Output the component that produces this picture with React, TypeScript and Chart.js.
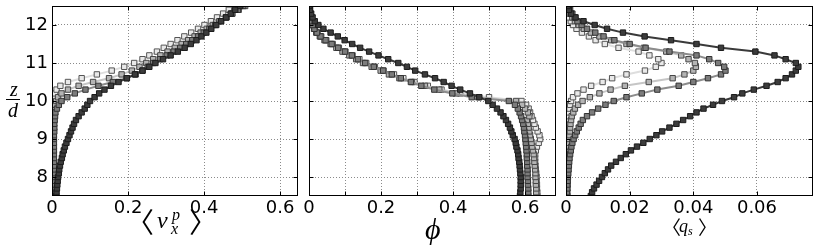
import React, { useEffect, useRef } from "react";
import { Chart, registerables } from "chart.js";

Chart.register(...registerables);

// ---------------- data ----------------
const Z = [
  7.5, 7.6, 7.7, 7.8, 7.9, 8.0, 8.1, 8.2, 8.3, 8.4,
  8.5, 8.6, 8.7, 8.8, 8.9, 9.0, 9.1, 9.2, 9.3, 9.4,
  9.5, 9.6, 9.7, 9.8, 9.9, 10.0, 10.1, 10.2, 10.3, 10.4,
  10.5, 10.6, 10.7, 10.8, 10.9, 11.0, 11.1, 11.2, 11.3, 11.4,
  11.5, 11.6, 11.7, 11.8, 11.9, 12.0, 12.1, 12.2, 12.3, 12.4,
  12.5,
];

// panel 1: <v_x^p>
const VX_S1 = [
  0.011, 0.012, 0.013, 0.014, 0.015, 0.016, 0.018, 0.019, 0.021, 0.023,
  0.026, 0.028, 0.031, 0.034, 0.038, 0.042, 0.046, 0.050, 0.054, 0.058,
  0.063, 0.070, 0.078, 0.086, 0.093, 0.100, 0.112, 0.124, 0.138, 0.155,
  0.175, 0.197, 0.218, 0.238, 0.256, 0.272, 0.292, 0.312, 0.331, 0.349,
  0.365, 0.380, 0.393, 0.406, 0.419, 0.432, 0.445, 0.458, 0.470, 0.482,
  0.495,
];
const VX_S2 = [
  0.005, 0.005, 0.005, 0.005, 0.005, 0.005, 0.005, 0.005, 0.005, 0.005,
  0.005, 0.005, 0.005, 0.005, 0.005, 0.005, 0.005, 0.006, 0.006, 0.006,
  0.007, 0.008, 0.009, 0.013, 0.018, 0.025, 0.040, 0.060, 0.088, 0.122,
  0.160, 0.196, 0.220, 0.238, 0.252, 0.266, 0.284, 0.302, 0.320, 0.337,
  0.353, 0.369, 0.384, 0.399, 0.414, 0.429, 0.444, 0.459, 0.474, 0.489,
  0.503,
];
const VX_S3 = [
  0.003, 0.003, 0.003, 0.003, 0.003, 0.003, 0.003, 0.003, 0.003, 0.003,
  0.003, 0.003, 0.003, 0.003, 0.003, 0.003, 0.003, 0.003, 0.003, 0.003,
  0.003, 0.004, 0.005, 0.006, 0.008, 0.011, 0.016, 0.025, 0.042, 0.070,
  0.108, 0.150, 0.183, 0.210, 0.230, 0.248, 0.266, 0.285, 0.304, 0.323,
  0.341, 0.358, 0.375, 0.391, 0.407, 0.423, 0.440, 0.457, 0.474, 0.491,
  0.508,
];
const VX_S4 = [
  0.001, 0.001, 0.001, 0.001, 0.001, 0.001, 0.001, 0.001, 0.001, 0.001,
  0.001, 0.001, 0.001, 0.001, 0.001, 0.001, 0.001, 0.001, 0.001, 0.001,
  0.002, 0.002, 0.003, 0.003, 0.004, 0.005, 0.006, 0.008, 0.012, 0.022,
  0.042, 0.078, 0.118, 0.157, 0.190, 0.216, 0.238, 0.256, 0.276, 0.294,
  0.312, 0.330, 0.348, 0.366, 0.384, 0.401, 0.418, 0.434, 0.450, 0.465,
  0.480,
];

// panel 2: phi
const PHI_S1 = [
  0.586, 0.587, 0.588, 0.588, 0.588, 0.588, 0.587, 0.586, 0.585, 0.584,
  0.582, 0.581, 0.579, 0.576, 0.574, 0.571, 0.566, 0.562, 0.558, 0.553,
  0.547, 0.540, 0.532, 0.522, 0.510, 0.498, 0.473, 0.447, 0.420, 0.396,
  0.374, 0.350, 0.322, 0.295, 0.272, 0.248, 0.220, 0.193, 0.167, 0.142,
  0.120, 0.099, 0.080, 0.060, 0.040, 0.026, 0.016, 0.010, 0.006, 0.003,
  0.001,
];
const PHI_S2 = [
  0.609, 0.609, 0.609, 0.608, 0.608, 0.607, 0.607, 0.607, 0.606, 0.606,
  0.605, 0.605, 0.604, 0.603, 0.602, 0.601, 0.600, 0.598, 0.597, 0.595,
  0.592, 0.589, 0.585, 0.580, 0.572, 0.555, 0.452, 0.398, 0.348, 0.312,
  0.283, 0.255, 0.230, 0.206, 0.180, 0.156, 0.136, 0.119, 0.100, 0.081,
  0.063, 0.046, 0.032, 0.022, 0.015, 0.010, 0.007, 0.005, 0.003, 0.002,
  0.001,
];
const PHI_S3 = [
  0.631, 0.631, 0.631, 0.630, 0.630, 0.629, 0.629, 0.628, 0.627, 0.626,
  0.625, 0.624, 0.622, 0.620, 0.618, 0.616, 0.614, 0.612, 0.610, 0.608,
  0.605, 0.612, 0.608, 0.600, 0.592, 0.575, 0.470, 0.410, 0.362, 0.322,
  0.286, 0.251, 0.222, 0.199, 0.174, 0.150, 0.131, 0.112, 0.093, 0.076,
  0.060, 0.043, 0.030, 0.020, 0.014, 0.010, 0.007, 0.005, 0.003, 0.002,
  0.001,
];
const PHI_S4 = [
  0.634, 0.634, 0.633, 0.633, 0.632, 0.632, 0.631, 0.630, 0.629, 0.628,
  0.628, 0.628, 0.630, 0.633, 0.638, 0.642, 0.640, 0.635, 0.630, 0.626,
  0.622, 0.618, 0.614, 0.610, 0.603, 0.590, 0.500, 0.420, 0.368, 0.330,
  0.293, 0.262, 0.236, 0.207, 0.183, 0.159, 0.140, 0.121, 0.101, 0.083,
  0.066, 0.048, 0.034, 0.024, 0.016, 0.011, 0.008, 0.005, 0.003, 0.002,
  0.001,
];

// panel 3: <q_s>
const QS_S1 = [
  0.0078, 0.0082, 0.0088, 0.0096, 0.0104, 0.0113, 0.0122, 0.0132, 0.0142, 0.0157,
  0.0172, 0.0188, 0.0204, 0.0223, 0.0243, 0.0263, 0.0284, 0.0302, 0.0325, 0.0347,
  0.0368, 0.0390, 0.0410, 0.0432, 0.0462, 0.0490, 0.0528, 0.0554, 0.0590, 0.0630,
  0.0665, 0.0690, 0.0710, 0.0722, 0.0730, 0.0722, 0.0690, 0.0655, 0.0595, 0.0487,
  0.0410, 0.0330, 0.0247, 0.0179, 0.0129, 0.0090, 0.0055, 0.0030, 0.0016, 0.0009,
  0.0005,
];
const QS_S2 = [
  0.0003, 0.0003, 0.0004, 0.0004, 0.0005, 0.0006, 0.0007, 0.0008, 0.0009, 0.0010,
  0.0011, 0.0013, 0.0015, 0.0017, 0.0020, 0.0024, 0.0029, 0.0034, 0.0040, 0.0046,
  0.0053, 0.0066, 0.0082, 0.0101, 0.0124, 0.0150, 0.0190, 0.0238, 0.0287, 0.0354,
  0.0400, 0.0446, 0.0487, 0.0501, 0.0497, 0.0478, 0.0450, 0.0410, 0.0325, 0.0250,
  0.0200, 0.0152, 0.0118, 0.0092, 0.0066, 0.0049, 0.0036, 0.0027, 0.0020, 0.0013,
  0.0008,
];
const QS_S3 = [
  0.0004, 0.0004, 0.0004, 0.0005, 0.0005, 0.0005, 0.0005, 0.0006, 0.0006, 0.0006,
  0.0007, 0.0007, 0.0008, 0.0008, 0.0009, 0.0010, 0.0011, 0.0012, 0.0013, 0.0014,
  0.0016, 0.0018, 0.0023, 0.0028, 0.0038, 0.0052, 0.0075, 0.0105, 0.0140, 0.0185,
  0.0260, 0.0335, 0.0372, 0.0400, 0.0408, 0.0405, 0.0385, 0.0362, 0.0315, 0.0245,
  0.0190, 0.0142, 0.0105, 0.0078, 0.0056, 0.0040, 0.0028, 0.0020, 0.0014, 0.0010,
  0.0006,
];
const QS_S4 = [
  0.0002, 0.0002, 0.0002, 0.0002, 0.0003, 0.0003, 0.0003, 0.0003, 0.0003, 0.0003,
  0.0003, 0.0004, 0.0004, 0.0004, 0.0004, 0.0004, 0.0005, 0.0005, 0.0005, 0.0005,
  0.0006, 0.0007, 0.0009, 0.0011, 0.0013, 0.0016, 0.0022, 0.0036, 0.0055, 0.0079,
  0.0115, 0.0145, 0.0190, 0.0248, 0.0282, 0.0300, 0.0290, 0.0262, 0.0228, 0.0165,
  0.0122, 0.0093, 0.0072, 0.0050, 0.0033, 0.0022, 0.0015, 0.0010, 0.0007, 0.0005,
  0.0003,
];

// ticks
const Y_TICKS = [8, 9, 10, 11, 12];
const X1_TICKS = [0, 0.2, 0.4, 0.6];
const X1_LABELS = ["0", "0.2", "0.4", "0.6"];
const X2_TICKS = [0, 0.1, 0.2, 0.3, 0.4, 0.5, 0.6];
const X2_LABELS = ["0", "", "0.2", "", "0.4", "", "0.6"];
const X3_TICKS = [0, 0.02, 0.04, 0.06];
const X3_LABELS = ["0", "0.02", "0.04", "0.06"];

// ---------------- styles ----------------
const STYLES = [
  { fill: "#3c3c3c", edge: "#1c1c1c", line: "#3a3a3a" },
  { fill: "#7c7c7c", edge: "#333333", line: "#8c8c8c" },
  { fill: "#b4b4b4", edge: "#464646", line: "#c6c6c6" },
  { fill: "#e9e9e9", edge: "#555555", line: "#dedede" },
];
const GRID = "#8a8a8a";
const TICK_FONT = { family: '"DejaVu Sans"', size: 18 };
const SERIF = '"Liberation Serif", "DejaVu Serif", serif';
const BRACKET = '"Noto Sans CJK JP", "DejaVu Sans", sans-serif';

const framePlugin = {
  id: "frameTicks",
  afterDraw(chart: any) {
    const { ctx, chartArea: a, scales } = chart;
    ctx.save();
    ctx.strokeStyle = "#000";
    ctx.lineWidth = 1;
    const L = Math.round(a.left) + 0.5;
    const R = Math.round(a.right) - 0.5;
    const T = Math.round(a.top) + 0.5;
    const B = Math.round(a.bottom) - 0.5;
    ctx.beginPath();
    scales.x.ticks.forEach((t: any) => {
      const p = Math.round(scales.x.getPixelForValue(t.value)) + 0.5;
      ctx.moveTo(p, B);
      ctx.lineTo(p, B - 4);
      ctx.moveTo(p, T);
      ctx.lineTo(p, T + 4);
    });
    scales.y.ticks.forEach((t: any) => {
      const p = Math.round(scales.y.getPixelForValue(t.value)) + 0.5;
      ctx.moveTo(L, p);
      ctx.lineTo(L + 4, p);
      ctx.moveTo(R, p);
      ctx.lineTo(R - 4, p);
    });
    ctx.stroke();
    ctx.strokeRect(L, T, R - L, B - T);
    ctx.restore();
  },
};

// draw text so that its ink box starts at (left, top) in page coordinates
function ink(ctx: CanvasRenderingContext2D, text: string, font: string, left: number, top: number) {
  ctx.font = font;
  const m = ctx.measureText(text);
  ctx.fillText(text, left + m.actualBoundingBoxLeft, top + m.actualBoundingBoxAscent);
}

function labelPlugin(draw: (ctx: CanvasRenderingContext2D) => void, offset: number) {
  return {
    id: "mathLabels",
    afterDraw(chart: any) {
      const { ctx } = chart;
      ctx.save();
      ctx.translate(-offset, 0);
      ctx.fillStyle = "#000";
      ctx.textBaseline = "alphabetic";
      ctx.textAlign = "left";
      draw(ctx);
      ctx.restore();
    },
  };
}

const drawLabel1 = (ctx: CanvasRenderingContext2D) => {
  ink(ctx, "\u3008", `28px ${BRACKET}`, 142, 208);
  ink(ctx, "v", `italic 24px ${SERIF}`, 157, 217);
  ink(ctx, "p", `italic 16px ${SERIF}`, 171, 212);
  ink(ctx, "x", `italic 16px ${SERIF}`, 170, 226);
  ink(ctx, "\u3009", `28px ${BRACKET}`, 190, 208);
  // y label z/d
  ink(ctx, "z", `italic 20px ${SERIF}`, 9, 86);
  ink(ctx, "d", `italic 20px ${SERIF}`, 8, 103);
  ctx.fillRect(6, 99, 14, 1);
};

const drawLabel2 = (ctx: CanvasRenderingContext2D) => {
  ink(ctx, "\u03D5", `italic 30px ${SERIF}`, 425, 218);
};

const drawLabel3 = (ctx: CanvasRenderingContext2D) => {
  ink(ctx, "\u3008", `19px ${BRACKET}`, 673, 218);
  ink(ctx, "q", `italic 18px ${SERIF}`, 679, 223);
  ink(ctx, "s", `italic 12px ${SERIF}`, 688, 229);
  ink(ctx, "\u3009", `19px ${BRACKET}`, 698, 218);
};

type PanelCfg = {
  series: number[][];
  xMax: number;
  xTicks: number[];
  xLabels: string[];
  showY: boolean;
  width: number;
  left: number;
  padL: number;
  padR: number;
  yWidth: number;
  draw: (ctx: CanvasRenderingContext2D) => void;
};

function buildChart(canvas: HTMLCanvasElement, p: PanelCfg) {
  return new Chart(canvas, {
    type: "scatter",
    data: {
      datasets: p.series.map((vals, i) => ({
        label: `s${i}`,
        data: vals.map((v, k) => ({ x: v, y: Z[k] })),
        showLine: true,
        borderColor: STYLES[i].line,
        borderWidth: 2,
        tension: 0,
        pointStyle: "rect",
        pointRadius: 3.8,
        pointHoverRadius: 3.8,
        pointBackgroundColor: STYLES[i].fill,
        pointBorderColor: STYLES[i].edge,
        pointBorderWidth: 1,
      })),
    },
    options: {
      responsive: false,
      animation: false,
      events: [],
      layout: { padding: { left: p.padL, right: p.padR, top: 6, bottom: 0 } },
      plugins: { legend: { display: false }, tooltip: { enabled: false } },
      scales: {
        x: {
          type: "linear",
          min: 0,
          max: p.xMax,
          afterBuildTicks: (s: any) => {
            s.ticks = p.xTicks.map((v) => ({ value: v }));
          },
          afterFit: (s: any) => {
            s.height = 49;
            s.paddingLeft = 0;
            s.paddingRight = 0;
            s.paddingTop = 0;
            s.paddingBottom = 0;
          },
          grid: { color: GRID, lineWidth: 1, drawTicks: false },
          border: { display: false, dash: [1, 2] },
          ticks: {
            font: TICK_FONT,
            color: "#000",
            padding: 2,
            maxRotation: 0,
            minRotation: 0,
            autoSkip: false,
            callback: (_v: any, i: number) => p.xLabels[i],
          },
        },
        y: {
          type: "linear",
          min: 7.5,
          max: 12.5,
          afterBuildTicks: (s: any) => {
            s.ticks = Y_TICKS.map((v) => ({ value: v }));
          },
          afterFit: (s: any) => {
            s.width = p.yWidth;
            s.paddingLeft = 0;
            s.paddingRight = 0;
            s.paddingTop = 0;
            s.paddingBottom = 0;
          },
          grid: { color: GRID, lineWidth: 1, drawTicks: false },
          border: { display: false, dash: [1, 2] },
          ticks: {
            display: p.showY,
            font: TICK_FONT,
            color: "#000",
            padding: 4,
            autoSkip: false,
            callback: (v: any) => String(v),
          },
        },
      },
    } as any,
    plugins: [framePlugin, labelPlugin(p.draw, p.left)],
  });
}

const PANELS: PanelCfg[] = [
  {
    series: [VX_S1, VX_S2, VX_S3, VX_S4],
    xMax: 0.647,
    xTicks: X1_TICKS,
    xLabels: X1_LABELS,
    showY: true,
    width: 310,
    left: 0,
    padL: 0,
    padR: 12,
    yWidth: 52,
    draw: drawLabel1,
  },
  {
    series: [PHI_S1, PHI_S2, PHI_S3, PHI_S4],
    xMax: 0.686,
    xTicks: X2_TICKS,
    xLabels: X2_LABELS,
    showY: false,
    width: 285,
    left: 290,
    padL: 19,
    padR: 19,
    yWidth: 0,
    draw: drawLabel2,
  },
  {
    series: [QS_S1, QS_S2, QS_S3, QS_S4],
    xMax: 0.0776,
    xTicks: X3_TICKS,
    xLabels: X3_LABELS,
    showY: false,
    width: 285,
    left: 545,
    padL: 21,
    padR: 17,
    yWidth: 0,
    draw: drawLabel3,
  },
];

function Panel({ cfg }: { cfg: PanelCfg }) {
  const ref = useRef<HTMLCanvasElement | null>(null);
  useEffect(() => {
    if (!ref.current) return;
    const chart = buildChart(ref.current, cfg);
    return () => chart.destroy();
  }, [cfg]);
  return (
    <canvas
      ref={ref}
      width={cfg.width}
      height={245}
      style={{ position: "absolute", left: cfg.left, top: 0, width: cfg.width, height: 245 }}
    />
  );
}

export default function App() {
  return (
    <div
      style={{
        position: "absolute",
        left: 0,
        top: 0,
        width: 830,
        height: 245,
        background: "#fff",
        overflow: "hidden",
      }}
    >
      {PANELS.map((c, i) => (
        <Panel key={i} cfg={c} />
      ))}
    </div>
  );
}
